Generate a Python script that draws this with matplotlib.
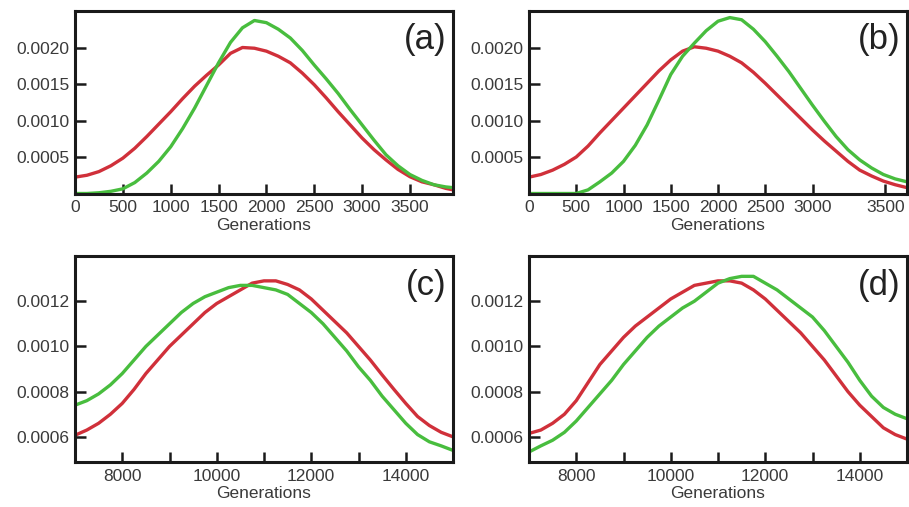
import numpy as np
import matplotlib
matplotlib.use('Agg')
import matplotlib.pyplot as plt

plt.rcParams['font.family'] = ['Liberation Sans', 'DejaVu Sans']

# ---- panel (a) ----
xa = [0, 125, 250, 375, 500, 625, 750, 875, 1000, 1125, 1250, 1375, 1500, 1625, 1750, 1875, 2000,
      2125, 2250, 2375, 2500, 2625, 2750, 2875, 3000, 3125, 3250, 3375, 3500, 3625, 3750, 3875, 3950]
ya_red = [0.000224, 0.00025, 0.00030, 0.00038, 0.000484, 0.00062, 0.00078, 0.00095, 0.00112, 0.00130,
          0.00147, 0.00162, 0.00176, 0.00192, 0.00200, 0.00199, 0.00195, 0.00188, 0.00179, 0.00165,
          0.00149, 0.00131, 0.00112, 0.00094, 0.00076, 0.00060, 0.00046, 0.00033, 0.00023, 0.00016,
          0.00012, 0.00007, 0.00005]
ya_green = [0.0, 0.0, 0.00001, 0.00003, 0.000064, 0.00015, 0.00028, 0.00044, 0.00064, 0.00089,
            0.00117, 0.00148, 0.00179, 0.00207, 0.00227, 0.00237, 0.00234, 0.00225, 0.00213, 0.00196,
            0.00176, 0.00157, 0.00137, 0.00115, 0.00094, 0.00073, 0.00053, 0.00038, 0.00026, 0.00018,
            0.00012, 0.00009, 0.00008]

# ---- panel (b) ----
xb = [0, 125, 250, 375, 500, 625, 750, 875, 1000, 1125, 1250, 1375, 1500, 1625, 1750, 1875, 2000,
      2125, 2250, 2375, 2500, 2625, 2750, 2875, 3000, 3125, 3250, 3375, 3500, 3625, 3750, 3875, 4000]
yb_red = [0.000224, 0.00026, 0.00032, 0.00040, 0.00050, 0.00065, 0.00083, 0.00100, 0.00117, 0.00134,
          0.00151, 0.00168, 0.00183, 0.00195, 0.00201, 0.00199, 0.00195, 0.00188, 0.00179, 0.00166,
          0.00151, 0.00135, 0.00119, 0.00103, 0.00087, 0.00072, 0.00058, 0.00044, 0.00032, 0.00024,
          0.00017, 0.00012, 0.00008]
yb_green = [0.0, 0.0, 0.0, 0.0, 0.0, 0.00005, 0.00016, 0.00028, 0.00044, 0.00066,
            0.00094, 0.00128, 0.00163, 0.00188, 0.00206, 0.00223, 0.00236, 0.00241, 0.00238, 0.00225,
            0.00208, 0.00188, 0.00167, 0.00144, 0.00121, 0.00099, 0.00078, 0.00060, 0.00046, 0.00035,
            0.00026, 0.00020, 0.00016]

# ---- panel (c) ----
xc = [7000, 7250, 7500, 7750, 8000, 8250, 8500, 8750, 9000, 9250, 9500, 9750, 10000, 10250, 10500,
      10750, 11000, 11250, 11500, 11750, 12000, 12250, 12500, 12750, 13000, 13250, 13500, 13750,
      14000, 14250, 14500, 14750, 15000]
yc_red = [0.000607, 0.00063, 0.00066, 0.00070, 0.000748, 0.00081, 0.00088, 0.00094, 0.00100, 0.00105,
          0.00110, 0.00115, 0.00119, 0.00122, 0.00125, 0.00128, 0.00129, 0.00129, 0.001274, 0.00125,
          0.00121, 0.00116, 0.00111, 0.00106, 0.00100, 0.00094, 0.000874, 0.00081, 0.000748, 0.00069,
          0.00065, 0.00062, 0.00060]
yc_green = [0.00074, 0.00076, 0.00079, 0.00083, 0.00088, 0.00094, 0.00100, 0.00105, 0.00110, 0.00115,
            0.00119, 0.00122, 0.00124, 0.00126, 0.00127, 0.00127, 0.00126, 0.00125, 0.00123, 0.00119,
            0.00115, 0.00110, 0.00104, 0.00098, 0.00091, 0.00085, 0.00078, 0.00072, 0.00066, 0.00061,
            0.000578, 0.00056, 0.00054]

# ---- panel (d) ----
xd = xc
yd_red = [0.000615, 0.00063, 0.00066, 0.00070, 0.00076, 0.00084, 0.00092, 0.00098, 0.00104, 0.00109,
          0.00113, 0.00117, 0.00121, 0.00124, 0.00127, 0.00128, 0.00129, 0.00129, 0.00128, 0.00125,
          0.00121, 0.00116, 0.00111, 0.00106, 0.00100, 0.00094, 0.00087, 0.00080, 0.00074, 0.00069,
          0.00064, 0.00061, 0.00059]
yd_green = [0.000533, 0.00056, 0.000585, 0.00062, 0.00067, 0.00073, 0.00079, 0.00085, 0.00092, 0.00098,
            0.00104, 0.00109, 0.00113, 0.00117, 0.00120, 0.00124, 0.00128, 0.00130, 0.00131, 0.00131,
            0.00128, 0.00125, 0.00121, 0.00117, 0.00113, 0.00107, 0.00100, 0.00093, 0.00085, 0.00078,
            0.00073, 0.00070, 0.00068]

xt_top = [0, 500, 1000, 1500, 2000, 2500, 3000, 3500]
xt_top_lab = ['0', '500', '1000', '1500', '2000', '2500', '3000', '3500']
xt_b = [0, 500, 1000, 1500, 2000, 2500, 3000, 3770]
yt_top = [0.0005, 0.0010, 0.0015, 0.0020]
yt_top_lab = ['0.0005', '0.0010', '0.0015', '0.0020']
xt_bot = [8000, 9000, 10000, 11000, 12000, 13000, 14000]
xt_bot_lab = ['8000', '', '10000', '', '12000', '', '14000']
yt_bot = [0.0006, 0.0008, 0.0010, 0.0012]
yt_bot_lab = ['0.0006', '0.0008', '0.0010', '0.0012']

red = '#d0303a'
green = '#48bd3e'
txt = '#3a3a3a'

fig = plt.figure(figsize=(9.09, 5.07), dpi=100)
W, H = 909., 507.
def add_ax(l, r, t, b):
    return fig.add_axes([l / W, 1 - b / H, (r - l) / W, (b - t) / H])

axa = add_ax(75, 453, 11, 193.5)
axb = add_ax(529, 907, 11, 193.5)
axc = add_ax(75, 453, 256, 461.7)
axd = add_ax(529, 907, 256, 461.7)

panels = [(axa, xa, ya_red, ya_green, '(a)'),
          (axb, xb, yb_red, yb_green, '(b)'),
          (axc, xc, yc_red, yc_green, '(c)'),
          (axd, xd, yd_red, yd_green, '(d)')]

for ax, x, yr, yg, lab in panels:
    ax.plot(x, yr, color=red, lw=2.4, solid_joinstyle='round', solid_capstyle='round')
    ax.plot(x, yg, color=green, lw=2.4, solid_joinstyle='round', solid_capstyle='round')
    for s in ax.spines.values():
        s.set_linewidth(2.2)
        s.set_color('#1a1a1a')
    ax.tick_params(axis='x', direction='in', length=7, width=1.8, colors='#1a1a1a',
                   labelcolor=txt, labelsize=12.5, pad=5)
    ax.tick_params(axis='y', direction='in', length=8, width=1.8, colors='#1a1a1a',
                   labelcolor=txt, labelsize=12.5, pad=4)
    ax.set_xlabel('Generations', fontsize=12.5, color=txt, labelpad=1.5)
    ax.text(0.984, 0.935, lab, transform=ax.transAxes, ha='right', va='top',
            fontsize=25, color='#222222')

axa.set_xlim(0, 3950)
axb.set_xlim(0, 4000)
for ax in (axa, axb):
    ax.set_ylim(0, 0.0025)
    ax.set_yticks(yt_top)
    ax.set_yticklabels(yt_top_lab)
axa.set_xticks(xt_top)
axa.set_xticklabels(xt_top_lab)
axb.set_xticks(xt_b)
axb.set_xticklabels(xt_top_lab)

for ax in (axc, axd):
    ax.set_xlim(7000, 15000)
    ax.set_ylim(0.00049, 0.0014)
    ax.set_xticks(xt_bot)
    ax.set_xticklabels(xt_bot_lab)
    ax.set_yticks(yt_bot)
    ax.set_yticklabels(yt_bot_lab)

fig.savefig('out.png', dpi=100)
